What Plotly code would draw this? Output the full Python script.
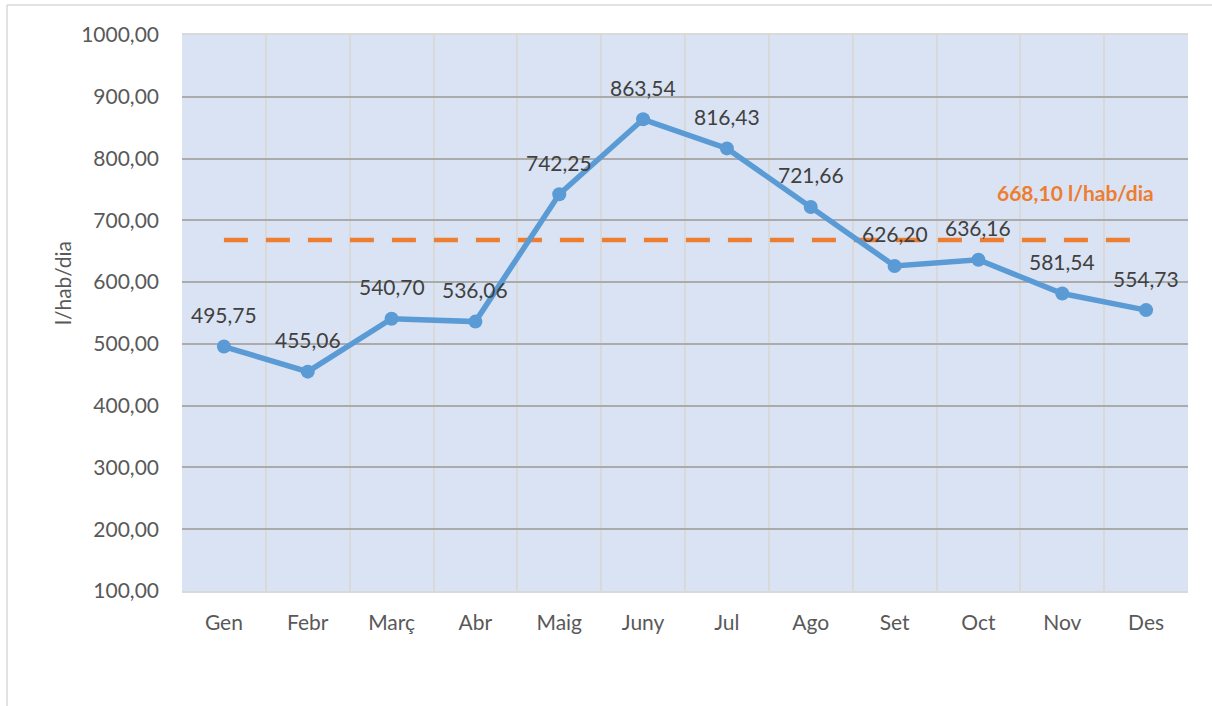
import plotly.graph_objects as go

months = ["Gen", "Febr", "Març", "Abr", "Maig", "Juny", "Jul", "Ago", "Set", "Oct", "Nov", "Des"]
values = [495.75, 455.06, 540.70, 536.06, 742.25, 863.54, 816.43, 721.66, 626.20, 636.16, 581.54, 554.73]
average = 668.10
labels = [f"{v:.2f}".replace(".", ",") for v in values]
avg_label = f"{average:.2f}".replace(".", ",") + " l/hab/dia"

FONT = "Lato"
W, H = 1212, 706
L, R, T, B = 182, 24, 35, 115
PW, PH = W - L - R, H - T - B


def px(x):
    return (x - L) / PW


def py(y):
    return (H - B - y) / PH


fig = go.Figure()
fig.add_trace(go.Scatter(
    x=months, y=[average] * len(months), mode="lines",
    line=dict(color="#ED7D31", width=4.5, dash="24px,18px"),
    hoverinfo="skip", showlegend=False))
fig.add_trace(go.Scatter(
    x=months, y=values, mode="lines+markers",
    line=dict(color="#5B9BD5", width=5.5),
    marker=dict(color="#5B9BD5", size=14),
    showlegend=False))

annotations = []
for m, v, t in zip(months, values, labels):
    annotations.append(dict(x=m, y=v, xref="x", yref="y", text=t, showarrow=False,
                            xanchor="center", yanchor="middle",
                            yshift=32, font=dict(family=FONT, size=21, color="#404040")))
annotations.append(dict(x=px(1075), y=py(192), xref="paper", yref="paper", text="<b>" + avg_label + "</b>",
                        xanchor="center", yanchor="middle",
                        showarrow=False, font=dict(family=FONT, size=21, color="#ED7D31")))
annotations.append(dict(x=px(62), y=py(283), xref="paper", yref="paper", text="l/hab/dia",
                        xanchor="center", yanchor="middle",
                        textangle=-90, showarrow=False, font=dict(family=FONT, size=21, color="#595959")))

shapes = [
    dict(type="line", xref="paper", yref="paper", x0=px(7), x1=px(1212), y0=py(5), y1=py(5),
         line=dict(color="#D9D9D9", width=1.5)),
    dict(type="line", xref="paper", yref="paper", x0=px(7), x1=px(7), y0=py(5), y1=py(706),
         line=dict(color="#D9D9D9", width=1.5)),
]

fig.update_layout(
    width=W, height=H,
    margin=dict(l=L, r=R, t=T, b=B, pad=0),
    paper_bgcolor="white", plot_bgcolor="#DAE3F3",
    font=dict(family=FONT, size=21, color="#595959"),
    annotations=annotations, shapes=shapes,
    xaxis=dict(type="category", tickson="boundaries", showgrid=True, gridcolor="#D9D9D9", gridwidth=1.5,
               showline=True, linecolor="#D9D9D9", linewidth=1.5, mirror=True, ticks="",
               ticklabelstandoff=12, tickfont=dict(family=FONT, size=21, color="#595959"),
               range=[-0.5, 11.5], fixedrange=True),
    yaxis=dict(range=[100, 1000], dtick=100, tick0=100, showgrid=True, gridcolor="#ABABAB", gridwidth=1.5,
               zeroline=False, showline=False, ticks="", tickformat=".2f", separatethousands=False,
               ticklabelstandoff=22, tickfont=dict(family=FONT, size=21, color="#595959")),
    separators=",.",
)

fig.write_html("out.html", config={"displayModeBar": False},
               post_script="document.body.style.margin='0';document.body.style.overflow='hidden';")
